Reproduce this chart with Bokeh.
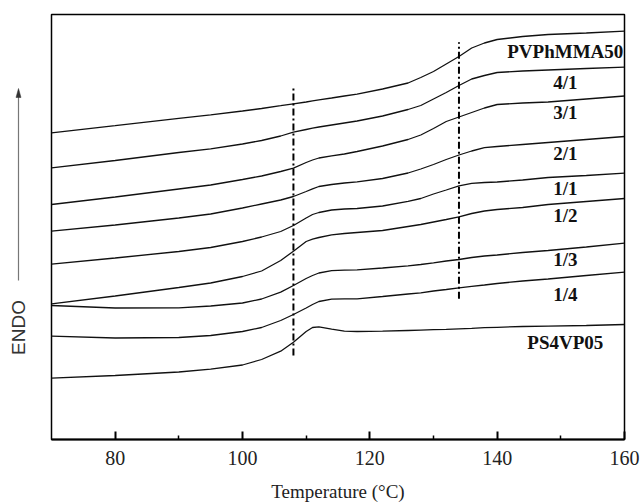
from bokeh.plotting import figure
from bokeh.layouts import row
from bokeh.models import Range1d, FixedTicker
from bokeh.core.properties import value
from bokeh.embed import file_html
from bokeh.resources import INLINE
import math

# Temperature grid (deg C)
temperature = [70, 80, 90, 95, 100, 103, 106, 108, 110, 111, 112, 114, 116, 118,
               122, 126, 128, 130, 132, 134, 136, 138, 140, 144, 148, 154, 160]

# DSC traces (heat flow, arbitrary units, shifted vertically; ENDO up)
pvphmma50 = [306.7, 313.8, 321.2, 324.7, 328.5, 331, 333.8, 335.7, 337.5, 338.6, 339.7, 341.5, 343.5, 345.4,
             350.5, 356.5, 362, 368, 375.5, 383, 391.5, 396.5, 400, 403, 405, 406.5, 408.3]
blend_4_1 = [271.7, 279, 287, 290.7, 295.5, 299, 303.5, 307.3, 310, 311.3, 312.5, 314.5, 316.5, 318.5,
             323.5, 330, 334, 340.5, 347, 354, 360.5, 364, 367, 368.5, 369.5, 371, 372.3]
blend_3_1 = [235, 242.5, 250.5, 254.5, 260, 263.5, 268, 271.3, 277, 279.5, 281.5, 283.7, 285.5, 288,
             293.5, 300, 304.5, 311, 318, 322.5, 327, 331.5, 335, 336.5, 337.5, 340.5, 343.5]
blend_2_1 = [208.3, 214.5, 221.5, 225.5, 231.5, 235.5, 239.5, 243, 248, 250.7, 253, 255, 256.5, 257.7,
             261, 266.5, 270.5, 275, 280, 284.5, 288.5, 291.8, 293, 295, 297, 300, 303]
blend_1_1 = [175.3, 181.5, 188, 192, 198, 202.5, 208, 214, 221.5, 225, 227, 229.5, 230.5, 231,
             233.5, 238.2, 241, 245.5, 249.5, 253.7, 256.2, 257, 257.5, 259.5, 262, 264, 266.3]
blend_1_2 = [135.7, 143.5, 152, 156.5, 163, 168.5, 179, 188.3, 198, 200.3, 202, 204.7, 206, 207,
             209, 213, 215, 217.5, 220, 222.7, 226, 228.5, 230, 232, 235, 238, 241]
blend_1_3 = [134, 131.5, 131.7, 133.5, 136.5, 140.5, 147.3, 154, 161, 164, 166.5, 168.8, 169.3, 169.7,
             171.5, 173.7, 175, 176.7, 178.5, 180, 182, 183.5, 184.5, 187, 189, 192.5, 196.3]
blend_1_4 = [103.3, 101.5, 102, 104, 108, 112, 119, 125, 131.5, 135, 138, 140.3, 140.7, 140.7,
             143, 145.5, 146.7, 148.5, 150, 151.7, 153.2, 154.5, 156, 158.5, 160.5, 164, 167.3]
ps4vp05 = [61.3, 64, 67.5, 70.3, 74.5, 80, 88.3, 97.3, 108, 112, 112.7, 110.3, 108.3, 108,
           108.3, 109, 109.4, 109.8, 110.2, 110.7, 111.2, 111.8, 112.2, 113, 113.4, 114, 115]

curves = [pvphmma50, blend_4_1, blend_3_1, blend_2_1, blend_1_1, blend_1_2, blend_1_3, blend_1_4, ps4vp05]
curve_labels = ["PVPhMMA50", "4/1", "3/1", "2/1", "1/1", "1/2", "1/3", "1/4", "PS4VP05"]
label_temp = 150.7
label_level = [388, 357.3, 327.3, 285.7, 250.7, 224, 179.7, 145, 97.3]

# Glass-transition guide lines
tg_temp = [108, 134]
tg_low = [84, 140.7]
tg_high = [352, 397.3]

major_ticks = [80, 100, 120, 140, 160]
minor_ticks = [90, 110, 130, 150]

# "ENDO" direction marker (placed in a narrow side panel sharing the y scale)
endo_x = 18
endo_text_level = 112
endo_arrow_low = 159
endo_arrow_high = 351

y_rng = Range1d(0, 425)

p = figure(width=592, height=504, output_backend="svg", toolbar_location=None,
           x_range=Range1d(70, 160), y_range=y_rng,
           min_border_left=2, min_border_right=17, min_border_top=14, min_border_bottom=65)
p.grid.visible = False
p.yaxis.visible = False
p.background_fill_color = "white"
p.border_fill_color = "white"
p.outline_line_color = "black"
p.outline_line_width = 1.5
p.outline_line_alpha = 1.0

ax = p.xaxis[0]
ax.ticker = FixedTicker(ticks=major_ticks, minor_ticks=minor_ticks)
ax.major_tick_in = 8
ax.major_tick_out = 0
ax.minor_tick_in = 4
ax.minor_tick_out = 0
ax.axis_line_width = 2
ax.axis_line_color = "black"
ax.major_tick_line_width = 2
ax.minor_tick_line_width = 1.5
ax.major_label_text_font = "Liberation Serif"
ax.major_label_text_font_size = "20px"
ax.major_label_text_color = "#222222"
ax.major_label_standoff = 11
ax.axis_label = "Temperature (°C)"
ax.axis_label_text_font = "Liberation Serif"
ax.axis_label_text_font_size = "19px"
ax.axis_label_text_font_style = "normal"
ax.axis_label_text_color = "#222222"
ax.axis_label_standoff = 13

for ys in curves:
    p.line(temperature, ys, line_color="#111111", line_width=1.3)

p.segment(x0=tg_temp, y0=tg_low, x1=tg_temp, y1=tg_high,
          line_color="black", line_width=2, line_dash="7 3 2 3")

p.text(x=[label_temp] * len(curve_labels), y=label_level, text=curve_labels,
       text_font=value("Liberation Serif"), text_font_style="bold", text_font_size="19px",
       text_align="center", text_baseline="middle", text_color="#111111")

side = figure(width=49, height=504, output_backend="svg", toolbar_location=None,
              x_range=Range1d(0, 49), y_range=y_rng,
              min_border_left=0, min_border_right=0, min_border_top=14, min_border_bottom=65)
side.axis.visible = False
side.grid.visible = False
side.outline_line_color = None
side.border_fill_color = "white"
side.segment(x0=[endo_x], y0=[endo_arrow_low], x1=[endo_x], y1=[endo_arrow_high - 6],
             line_color="#777777", line_width=1.2)
side.patch(x=[endo_x - 2.5, endo_x, endo_x + 2.5], y=[endo_arrow_high - 9, endo_arrow_high, endo_arrow_high - 9],
           fill_color="#333333", line_color="#333333", line_width=0.5)
side.text(x=[endo_x], y=[endo_text_level], text=["ENDO"], angle=math.pi / 2,
          text_font=value("Liberation Sans"), text_font_size="19px", text_color="#333333",
          text_align="center", text_baseline="middle")

layout = row(side, p)
open("out.html", "w").write(file_html(layout, INLINE))
